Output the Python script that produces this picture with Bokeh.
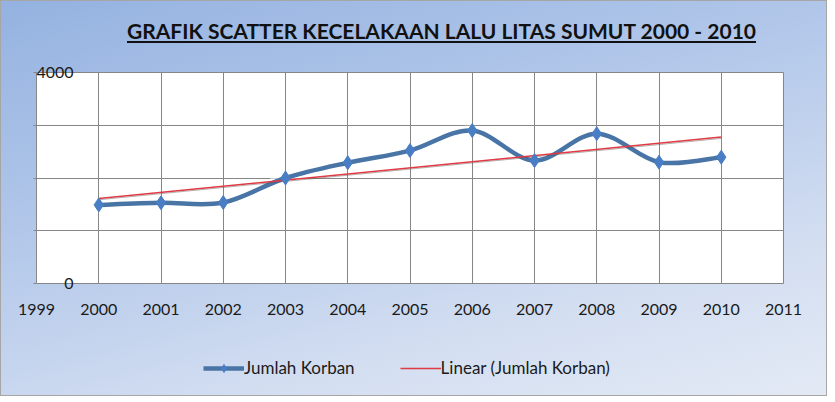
import numpy as np
from bokeh.plotting import figure
from bokeh.layouts import column
from bokeh.models import (Legend, LegendItem, FixedTicker, Range1d, ColumnDataSource, Div)
from bokeh.embed import file_html
from bokeh.resources import INLINE

# ---- data ----
years = [2000, 2001, 2002, 2003, 2004, 2005, 2006, 2007, 2008, 2009, 2010]
korban = [1490, 1530, 1535, 2000, 2290, 2520, 2900, 2330, 2840, 2300, 2395]
x_ticks = [1999, 2000, 2001, 2002, 2003, 2004, 2005, 2006, 2007, 2008, 2009, 2010, 2011]
y_ticks = [0, 1000, 2000, 3000, 4000]
y_tick_labels = {0: "0", 1000: "", 2000: "", 3000: "", 4000: "4000"}
title_text = "GRAFIK SCATTER KECELAKAAN LALU LITAS SUMUT 2000 - 2010"
series_name = "Jumlah Korban"
trend_name = "Linear (Jumlah Korban)"

FONT = "Lato"
W = 827
TITLE_H = 58
MAIN_BOTTOM = 336
LEG_H = 396 - MAIN_BOTTOM
H = MAIN_BOTTOM - TITLE_H
FL, FR = 36, 783
FT, FB = 72 - TITLE_H, 283 - TITLE_H

LINE_C = "#4874A6"
MARK_C = "#4A7EC4"
TREND_C = "#E03A44"

p = figure(width=W, height=H, x_range=Range1d(1999, 2011), y_range=Range1d(0, 4000),
           output_backend="svg", toolbar_location=None,
           min_border_left=FL, min_border_right=W - FR,
           min_border_top=FT, min_border_bottom=H - FB)
p.border_fill_alpha = 0
p.background_fill_color = "white"
p.outline_line_color = "#868686"

# axes
p.xaxis.ticker = FixedTicker(ticks=x_ticks)
p.yaxis.ticker = FixedTicker(ticks=y_ticks)
p.yaxis.major_label_overrides = y_tick_labels
p.xaxis.axis_line_color = None
p.yaxis.axis_line_color = None
p.xaxis.major_tick_out = 0
p.xaxis.major_tick_in = 0
p.yaxis.major_tick_out = 3
p.yaxis.major_tick_in = 0
p.yaxis.major_tick_line_color = "#868686"
p.xaxis.minor_tick_line_color = None
p.yaxis.minor_tick_line_color = None
for ax in (p.xaxis, p.yaxis):
    ax.major_label_text_font = FONT
    ax.major_label_text_font_size = "16px"
    ax.major_label_text_color = "#1a1a1a"
p.xaxis.major_label_standoff = 20
p.yaxis.major_label_standoff = -40
p.xgrid.ticker = FixedTicker(ticks=x_ticks)
p.ygrid.ticker = FixedTicker(ticks=y_ticks)
for g in (p.xgrid, p.ygrid):
    g.grid_line_color = "#868686"
    g.grid_line_width = 1

# smoothed series (Catmull-Rom -> Bezier, like a smoothed spreadsheet line)
xs = np.array(years, dtype=float)
ys = np.array(korban, dtype=float)
n = len(xs)
x0, y0, x1, y1, cx0, cy0, cx1, cy1 = [], [], [], [], [], [], [], []
for i in range(n - 1):
    pm = i - 1 if i > 0 else i
    pp = i + 2 if i + 2 < n else i + 1
    x0.append(xs[i]); y0.append(ys[i]); x1.append(xs[i + 1]); y1.append(ys[i + 1])
    cx0.append(xs[i] + (xs[i + 1] - xs[pm]) / 6); cy0.append(ys[i] + (ys[i + 1] - ys[pm]) / 6)
    cx1.append(xs[i + 1] - (xs[pp] - xs[i]) / 6); cy1.append(ys[i + 1] - (ys[pp] - ys[i]) / 6)
bsrc = ColumnDataSource(dict(x0=x0, y0=y0, x1=x1, y1=y1, cx0=cx0, cy0=cy0, cx1=cx1, cy1=cy1))
p.bezier("x0", "y0", "x1", "y1", "cx0", "cy0", "cx1", "cy1", source=bsrc,
         line_color="white", line_width=10, line_alpha=0.6)
p.bezier("x0", "y0", "x1", "y1", "cx0", "cy0", "cx1", "cy1", source=bsrc,
         line_color=LINE_C, line_width=4.5)

# linear trend
coef = np.polyfit(xs, ys, 1)
tx = [xs[0], xs[-1]]
ty = [coef[0] * v + coef[1] for v in tx]
p.line(tx, [v - 25 for v in ty], line_color="#555555", line_width=1, line_alpha=0.45)
p.line(tx, ty, line_color=TREND_C, line_width=1.5)

src = ColumnDataSource(dict(x=years, y=korban))
p.scatter("x", "y", source=src, marker="diamond", size=14,
          fill_color=MARK_C, line_color=MARK_C)

# legend strip (its own small canvas under the chart; series drawn off-view, only legend shows)
lf = figure(width=W, height=LEG_H, x_range=Range1d(0, 1), y_range=Range1d(0, 1),
            output_backend="svg", toolbar_location=None, x_axis_type=None, y_axis_type=None,
            min_border=0)
lf.border_fill_alpha = 0
lf.background_fill_alpha = 0
lf.outline_line_color = None
lf.grid.visible = False
lg_line = lf.line("x", "y", source=src, line_color=LINE_C, line_width=4.5)
lg_mark = lf.scatter("x", "y", source=src, marker="diamond", size=12,
                     fill_color=MARK_C, line_color=MARK_C)
lg_trend = lf.line(tx, ty, line_color=TREND_C, line_width=1.5)
legend = Legend(items=[LegendItem(label=series_name, renderers=[lg_line, lg_mark]),
                       LegendItem(label=trend_name, renderers=[lg_trend])],
                orientation="horizontal", location=(167, LEG_H - 42),
                glyph_width=41, glyph_height=20, label_standoff=0, spacing=45,
                padding=0, margin=0, border_line_color=None, background_fill_alpha=0,
                label_text_font=FONT, label_text_font_size="17px", label_text_color="#1a1a1a")
lf.add_layout(legend, "center")

title = Div(text=(
    '<div style="width:%dpx;box-sizing:border-box;padding-left:56px;padding-top:16px;'
    'text-align:center;font-family:Lato;font-weight:bold;font-size:21px;color:#111;'
    'text-decoration:underline;text-decoration-thickness:2px;text-underline-offset:2px;">'
    '%s</div>') % (W, title_text), width=W, height=TITLE_H, margin=0)

layout = column(title, p, lf, spacing=0, styles={
    "background": "linear-gradient(165deg, #94B2E0 0%, #B3C8EA 40%, #D3DEF1 75%, #E3EAF5 100%)",
    "box-shadow": "inset 0 0 0 1px #A6A6A6",
})

open("out.html", "w").write(file_html(layout, INLINE))
